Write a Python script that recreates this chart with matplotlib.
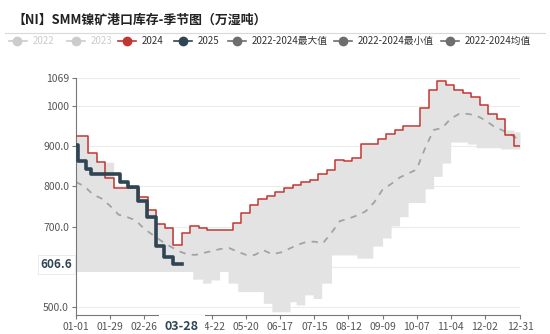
import numpy as np
import pandas as pd
import matplotlib
matplotlib.use('Agg')
import matplotlib.pyplot as plt
from matplotlib.lines import Line2D

plt.rcParams['font.family'] = ['Noto Sans CJK SC', 'DejaVu Sans']

title = '【NI】SMM镍矿港口库存-季节图（万湿吨）'
tick_labels = ['01-01', '01-29', '02-26', '03-25', '04-22', '05-20', '06-17',
               '07-15', '08-12', '09-09', '10-07', '11-04', '12-02', '12-31']
legend_names = ['2022', '2023', '2024', '2025',
                '2022-2024最大值', '2022-2024最小值', '2022-2024均值']

# 2024 weekly, each value holds until the next date
dates_2024 = ['01-01'] + list(pd.date_range('2024-01-11', periods=51, freq='7D').strftime('%m-%d'))
vals_2024 = [925, 883, 860, 821, 796, 796, 796, 775, 742, 708,
             698, 655, 684, 702, 696, 692, 692, 692, 710, 734,
             754, 770, 776, 786, 796, 804, 812, 817, 831, 841,
             866, 862, 870, 906, 906, 918, 930, 941, 949, 949,
             995, 1040, 1061, 1051, 1040, 1032, 1022, 1003, 980, 968,
             928, 901]
# 2022-2024 max, same dates as 2024
vals_max = [925, 883, 860, 860, 796, 796, 796, 775, 742, 708,
            698, 655, 684, 702, 696, 692, 692, 692, 710, 734,
            754, 770, 776, 786, 796, 804, 812, 817, 831, 841,
            866, 862, 870, 906, 906, 918, 930, 941, 949, 949,
            995, 1040, 1061, 1051, 1040, 1032, 1022, 1003, 980, 968,
            940, 935]

dates_2025 = ['01-01', '01-03', '01-09', '01-13', '02-06', '02-13', '02-21',
              '02-28', '03-07', '03-13', '03-21', '03-28']
vals_2025 = [904, 862, 842, 830, 811, 798, 765, 725, 651, 626, 607, 606.6]

dates_min = ['01-01', '04-06', '04-14', '04-21', '04-28', '05-05', '05-13',
             '06-03', '06-10', '06-25', '06-30', '07-07', '07-14', '07-21',
             '07-29', '08-19', '09-01', '09-09', '09-16', '09-23', '09-30',
             '10-14', '10-21', '10-28', '11-04', '11-18', '11-25', '12-15']
vals_min = [589, 570, 560, 568, 589, 560, 539,
            510, 489, 514, 506, 531, 522, 560,
            630, 622, 652, 672, 702, 725, 760,
            794, 825, 858, 910, 905, 896, 893]

mean_days = list(range(0, 365, 7))
vals_mean = [811, 800, 780, 770, 752, 730, 724, 716, 695, 680,
             665, 652, 640, 632, 630, 635, 640, 645, 647, 638,
             630, 630, 642, 632, 636, 645, 655, 662, 663, 659,
             685, 714, 720, 728, 738, 760, 792, 806, 822, 832,
             842, 895, 940, 945, 968, 980, 980, 976, 965, 950,
             940, 930, 916]

RED = '#c23531'
NAVY = '#2f4554'
BAND = '#e3e3e3'
MEAN = '#a3a3a3'


def doy(md):
    return (pd.Timestamp('2024-' + md) - pd.Timestamp('2024-01-01')).days


tick_pos = [doy(t) for t in tick_labels]
x24 = [doy(d) for d in dates_2024]
x25 = [doy(d) for d in dates_2025]
xmin = [doy(d) for d in dates_min]

fig = plt.figure(figsize=(5.5, 3.34), dpi=100)
ax = fig.add_axes([76 / 550, 19 / 334, 444 / 550, 237 / 334])

# band between min and max
grid = np.arange(0, 366)
hi = np.array(vals_max)[np.searchsorted(x24, grid, side='right') - 1]
lo = np.array(vals_min)[np.searchsorted(xmin, grid, side='right') - 1]
ax.fill_between(grid, lo, hi, step='post', color=BAND, lw=0, zorder=1)

ax.plot(mean_days + [365], vals_mean + [vals_mean[-1]], color=MEAN, lw=1.3,
        dashes=(3.5, 3.5), zorder=2)
ax.step(x24 + [365], vals_2024 + [vals_2024[-1]], where='post', color=RED, lw=1.1, zorder=3)
ax.step(x25, vals_2025, where='post', color=NAVY, lw=2.6, zorder=4)

ax.set_xlim(0, 365)
ax.set_ylim(481, 1069)
yt = [500, 600, 700, 800, 900, 1000, 1069]
ax.set_yticks(yt)
ax.set_yticklabels(['500.0', '600.0', '700.0', '800.0', '900.0', '1000', '1069'])
ax.set_xticks(tick_pos)
ax.set_xticklabels(tick_labels)
for y in yt:
    ax.axhline(y, color='#ececec', lw=0.8, zorder=0)
for s in ['top', 'right']:
    ax.spines[s].set_visible(False)
for s in ['left', 'bottom']:
    ax.spines[s].set_color('#777777')
    ax.spines[s].set_linewidth(0.8)
ax.tick_params(axis='both', length=3, width=0.8, color='#777777',
               labelsize=7.5, labelcolor='#555555', pad=2)

# axis pointer labels (they sit over the 600.0 and 03-25 tick labels, as in the source)
ax.text(-0.008, vals_2025[-1], '606.6', transform=ax.get_yaxis_transform(),
        ha='right', va='center', fontsize=8.5, fontweight='bold', color=NAVY,
        bbox=dict(boxstyle='square,pad=0.25', fc='white', ec='#e6e6e6', lw=0.6), zorder=10)
ax.text(x25[-1], -0.022, dates_2025[-1], transform=ax.get_xaxis_transform(),
        ha='center', va='top', fontsize=9, fontweight='bold', color=NAVY,
        bbox=dict(boxstyle='square,pad=0.45', fc='white', ec='none'), zorder=10)
ax.text(0.45, 0.39, '紫金天风期货', transform=ax.transAxes, ha='center', va='center',
        fontsize=7, color='#cfcfcf', zorder=0)

fig.text(12 / 550, 1 - 19 / 334, title, fontsize=9.3, fontweight='bold',
         color='#222222', ha='left', va='center')
fig.add_artist(Line2D([5 / 550, 545 / 550], [1 - 32.5 / 334] * 2, color='#d9d9d9', lw=0.8))

leg_colors = ['#cccccc', '#cccccc', RED, NAVY, '#6e6e6e', '#6e6e6e', '#6e6e6e']
text_colors = ['#cccccc', '#cccccc', '#333333', '#333333', '#333333', '#333333', '#333333']
marker_x = [17.5, 75.5, 127, 182.5, 236.5, 343, 450]
ly = 1 - 41 / 334
for name, c, tc, mx in zip(legend_names, leg_colors, text_colors, marker_x):
    fig.add_artist(Line2D([(mx - 9) / 550, (mx + 9) / 550], [ly, ly], color=c, lw=1.2))
    fig.add_artist(Line2D([mx / 550], [ly], color=c, marker='o', markersize=6, lw=0))
    fig.text((mx + 15) / 550, ly, name, fontsize=7, color=tc, ha='left', va='center')

fig.savefig('out.png', dpi=100)
